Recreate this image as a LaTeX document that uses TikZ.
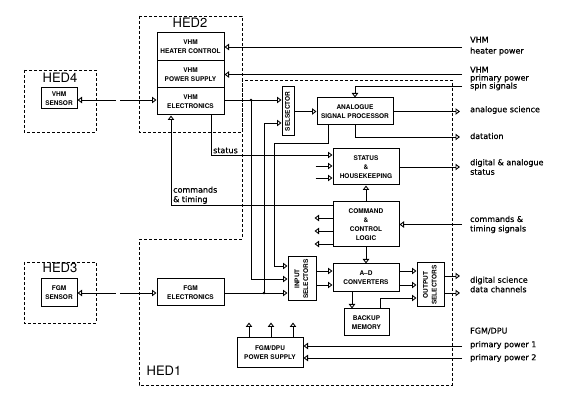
\documentclass[tikz,border=0pt]{standalone}
\usepackage{fontspec}
\setmainfont{TeX Gyre Heros}
\newfontfamily\lblfont[FakeBold=0.7]{DejaVu Sans}
\usepackage{graphicx}
\usepackage{tikz}
\usetikzlibrary{arrows.meta, calc}

\newcommand{\vtext}[1]{\rotatebox{90}{\begin{tabular}{@{}c@{}}#1\end{tabular}}}

\begin{document}
\begin{tikzpicture}[x=1pt, y=-1pt,
    blk/.style={draw, line width=1pt, inner sep=0pt, align=center,
      font=\fontsize{6.5}{8.8}\selectfont\bfseries},
    unit/.style={line width=0.8pt, dash pattern=on 3pt off 2pt},
    hed/.style={inner sep=0pt, font=\fontsize{13}{13}\selectfont},
    lbl/.style={inner sep=0pt, align=left, font=\lblfont\fontsize{8}{9.5}\selectfont},
    wire/.style={line width=0.9pt},
    oarr/.style={wire, -{Triangle[open, length=4.5pt, width=6.5pt]}},
    oarrs/.style={wire, {Triangle[open, length=4.5pt, width=6.5pt]}-}]

  \useasboundingbox (0,0) rectangle (562,411);

  % --- Unit outlines ---
  \draw[unit] (24,70) rectangle (96,132);
  \draw[unit] (24,262) rectangle (96,323);
  \draw[unit] (139,16) rectangle (242,132);
  \draw[unit] (139,239) -- (242,239) -- (242,80) -- (452,80)
    -- (452,385) -- (139,385) -- cycle;

  \node[hed] (hed4) at (60,78) {HED4};
  \node[hed] (hed3) at (60,268) {HED3};
  \node[hed] (hed2) at (190,23) {HED2};
  \node[hed] (hed1) at (164,371) {HED1};

  % --- Sensors and electronics ---
  \node[blk, minimum width=36pt, minimum height=21pt] (vhms) at (59,98.5) {VHM\\SENSOR};
  \node[blk, minimum width=36pt, minimum height=28pt] (fgms) at (59,293) {FGM\\SENSOR};
  \node[blk, minimum width=67pt, minimum height=28pt] (heat) at (190.5,47) {VHM\\HEATER CONTROL};
  \node[blk, minimum width=67pt, minimum height=27pt] (vhmps) at (190.5,74.5) {VHM\\POWER SUPPLY};
  \node[blk, minimum width=67pt, minimum height=27pt] (vhme) at (190.5,101.5) {VHM\\ELECTRONICS};
  \node[blk, minimum width=67pt, minimum height=27pt] (fgme) at (190.5,292.5) {FGM\\ELECTRONICS};

  % --- Processing blocks ---
  \node[blk, minimum width=12pt, minimum height=49pt] (sel) at (288,111.5) {\vtext{SELSECTOR}};
  \node[blk, minimum width=76pt, minimum height=27pt] (asp) at (355,111.5) {ANALOGUE\\SIGNAL PROCESSOR};
  \node[blk, minimum width=66pt, minimum height=36pt] (stat) at (366,167) {STATUS\\\&\\HOUSEKEEPING};
  \node[blk, minimum width=66pt, minimum height=45pt] (cmd) at (366,224.5) {COMMAND\\\&\\CONTROL\\LOGIC};
  \node[blk, minimum width=28pt, minimum height=44pt] (insel) at (302,279) {\vtext{INPUT\\SELECTORS}};
  \node[blk, minimum width=66pt, minimum height=28pt] (ad) at (366,278) {A--D\\CONVERTERS};
  \node[blk, minimum width=27pt, minimum height=44pt] (outsel) at (430.5,285) {\vtext{OUTPUT\\SELECTORS}};
  \node[blk, minimum width=45pt, minimum height=27pt] (bkp) at (366.5,322.5) {BACKUP\\MEMORY};
  \node[blk, minimum width=66pt, minimum height=30pt] (ps) at (270,353) {FGM/DPU\\POWER SUPPLY};

  % --- Free ends and junctions ---
  \coordinate (hpw) at (462,47);
  \coordinate (ppw) at (462,74.5);
  \coordinate (spin) at (462,86);
  \coordinate (ctin) at (462,224.5);
  \coordinate (pp1) at (462,346);
  \coordinate (pp2) at (462,358);
  \coordinate (rx) at (460,0);
  \coordinate (gapl) at (116,0);
  \coordinate (gapr) at (120,0);
  \coordinate (j1) at (251,100);
  \coordinate (j2) at (264,293);

  % --- Sensor links ---
  \draw[oarrs] (vhms.east |- j1) -- (gapl |- j1);
  \draw[oarr] (gapr |- j1) -- (vhme.west |- j1);
  \draw[oarrs] (fgms.east) -- (gapl |- fgms.east);
  \draw[oarr] (gapr |- fgms.east) -- (fgme.west |- fgms.east);

  % --- HED2 inputs ---
  \draw[oarr] (hpw) -- (heat.east);
  \draw[oarr] (ppw) -- (vhmps.east);
  \draw[oarr] (spin) -| (asp.north);

  % --- Selectors ---
  \draw[oarr] (vhme.east |- j1) -- (sel.west |- j1);
  \draw[oarr] (j1) |- (insel.west |- 0,279);
  \fill (j1) circle (1.4pt);
  \draw[oarr] (fgme.east |- j2) -- (insel.west |- j2);
  \draw[oarr] (j2) |- (sel.west |- 0,123);
  \fill (j2) circle (1.4pt);

  % --- Analogue signal processor ---
  \draw[oarr] (sel.east) -- (asp.west);
  \draw[oarr] (asp.east) -- (rx |- asp.east);
  \draw[oarr] (asp.south) |- (rx |- 0,137);
  \draw[oarr] (asp.south -| 328,0) |- (274,143) |- (insel.west |- 0,266);

  % --- Status and commands ---
  \draw[oarr] (vhme.south -| 211,0) |- (stat.west |- 0,155);
  \node[lbl, anchor=south west] (l-status) at (213,153.5) {status};
  \foreach \y in {166,178}
    \draw[oarr] ($(stat.west |- 0,\y)+(-17,0)$) -- (stat.west |- 0,\y);
  \draw[oarr] (stat.east) -- (rx |- stat.east);
  \draw[oarr] (cmd.west |- 0,205) -| (vhme.south -| 171,0);
  \node[lbl, anchor=south west] (l-cmdt) at (173,204) {commands\\\& timing};
  \draw[oarr] (cmd.north) -- (stat.south);
  \draw[oarr] (ctin) -- (cmd.east);
  \foreach \y in {218,231,244}
    \draw[oarr] (cmd.west |- 0,\y) -- ++(-18,0);
  \draw[oarr] (cmd.south) -- (ad.north);

  % --- Converters and outputs ---
  \foreach \y in {271,285} {
    \draw[oarr] (insel.east |- 0,\y) -- (ad.west |- 0,\y);
    \draw[oarr] (ad.east |- 0,\y) -- (outsel.west |- 0,\y);
  }
  \draw[oarr] (ad.south -| 352,0) -- (bkp.north -| 352,0);
  \draw[oarr] (bkp.north -| 380,0) |- (outsel.west |- 0,298);
  \foreach \y in {276,293}
    \draw[oarr] (outsel.east |- 0,\y) -- (rx |- 0,\y);

  % --- FGM/DPU power supply ---
  \foreach \x in {249,271,293}
    \draw[oarr] (ps.north -| \x,0) -- ++(0,-15);
  \draw[oarr] (pp1) -- (ps.east |- pp1);
  \draw[oarr] (pp2) -- (ps.east |- pp2);

  % --- Signal labels ---
  \node[lbl, anchor=west] (l-hp) at (470,46) {VHM\\[1.5pt]heater power};
  \node[lbl, anchor=west] (l-pp) at (470,78.5) {VHM\\[-1.5pt]primary power\\[-1.5pt]spin signals};
  \node[lbl, anchor=west] (l-as) at (470,110) {analogue science};
  \node[lbl, anchor=west] (l-dt) at (470,136) {datation};
  \node[lbl, anchor=west] (l-st) at (470,167) {digital \& analogue\\status};
  \node[lbl, anchor=west] (l-ct) at (470,224.5) {commands \&\\timing signals};
  \node[lbl, anchor=west] (l-ds) at (470,284.5) {digital science\\data channels};
  \node[lbl, anchor=west] (l-fd) at (470,331) {FGM/DPU};
  \node[lbl, anchor=west] (l-p1) at (470,345) {primary power 1};
  \node[lbl, anchor=west] (l-p2) at (470,358) {primary power 2};

\end{tikzpicture}
\end{document}
